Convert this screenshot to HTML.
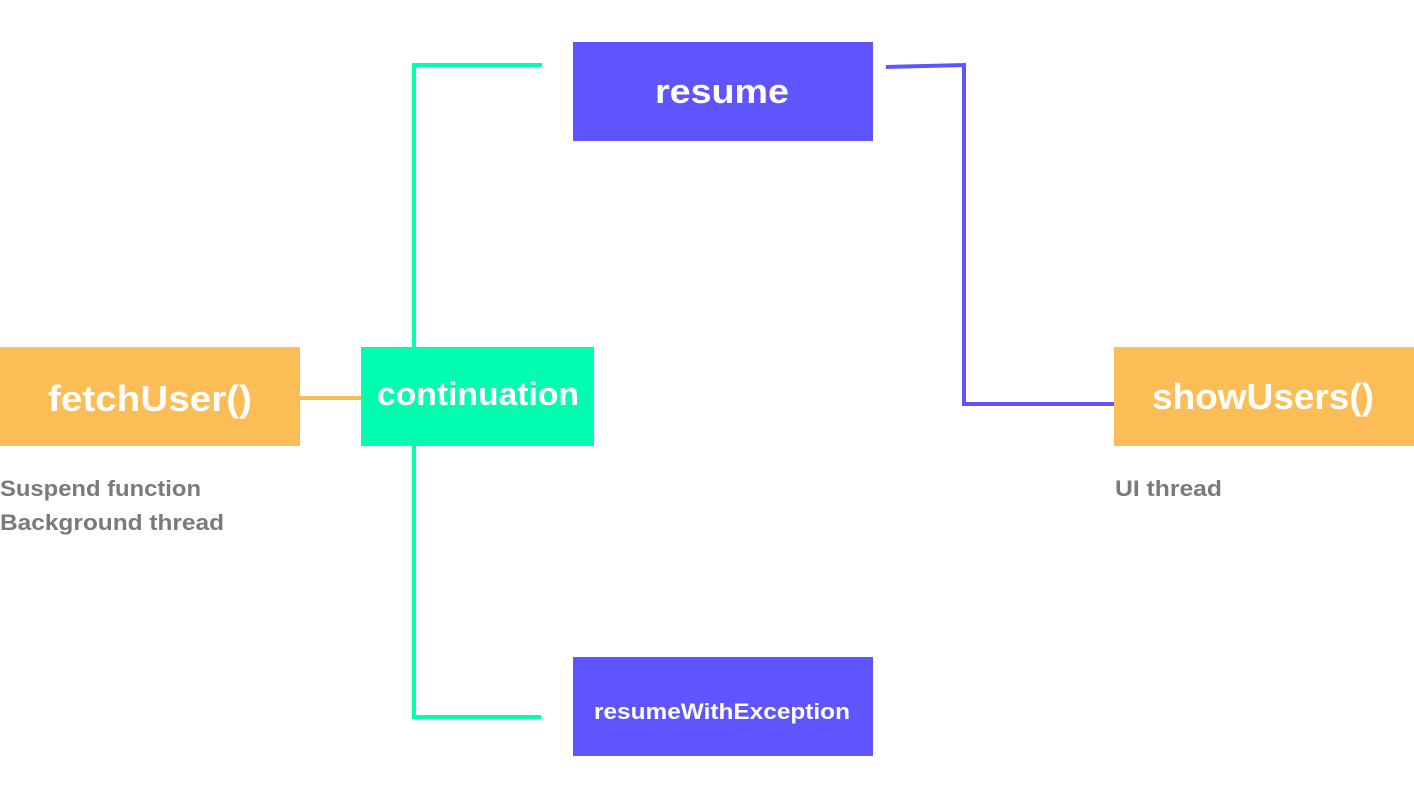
<!DOCTYPE html>
<html><head><meta charset="utf-8"><style>
html,body{margin:0;padding:0;background:#fff;}
svg{display:block;}
text{font-family:"Liberation Sans",sans-serif;font-weight:bold;}
</style></head><body>
<svg width="1414" height="791" viewBox="0 0 1414 791" xmlns="http://www.w3.org/2000/svg">
<!-- connectors -->
<line x1="300" y1="398" x2="362" y2="398" stroke="#FDBD56" stroke-width="4"/>
<polyline points="542,65 414,65 414,347" fill="none" stroke="#00FDB0" stroke-width="4"/>
<polyline points="414,446 414,717 541,717" fill="none" stroke="#00FDB0" stroke-width="4"/>
<polyline points="886,67 964,65 964,404 1114,404" fill="none" stroke="#5F55FF" stroke-width="4"/>
<!-- boxes -->
<rect x="0" y="347" width="300" height="99" fill="#FDBD56"/>
<rect x="361" y="347" width="233" height="99" fill="#00FDB0"/>
<rect x="573" y="42" width="300" height="99" fill="#5F55FF"/>
<rect x="573" y="657" width="300" height="99" fill="#5F55FF"/>
<rect x="1114" y="347" width="300" height="99" fill="#FDBD56"/>
<!-- labels -->
<text x="48" y="411" font-size="36" fill="#fff" textLength="204" lengthAdjust="spacingAndGlyphs">fetchUser()</text>
<text x="377" y="405" font-size="32" fill="#fff" textLength="202" lengthAdjust="spacingAndGlyphs">continuation</text>
<text x="655" y="103" font-size="34" fill="#fff" textLength="134" lengthAdjust="spacingAndGlyphs">resume</text>
<text x="594" y="719" font-size="22" fill="#fff" textLength="256" lengthAdjust="spacingAndGlyphs">resumeWithException</text>
<text x="1152" y="409" font-size="36" fill="#fff" textLength="222" lengthAdjust="spacingAndGlyphs">showUsers()</text>
<text x="0" y="496" font-size="22" fill="#7a7a7a" textLength="201" lengthAdjust="spacingAndGlyphs">Suspend function</text>
<text x="0" y="530" font-size="22" fill="#7a7a7a" textLength="224" lengthAdjust="spacingAndGlyphs">Background thread</text>
<text x="1115" y="496" font-size="22" fill="#7a7a7a" textLength="107" lengthAdjust="spacingAndGlyphs">UI thread</text>
</svg>
</body></html>
